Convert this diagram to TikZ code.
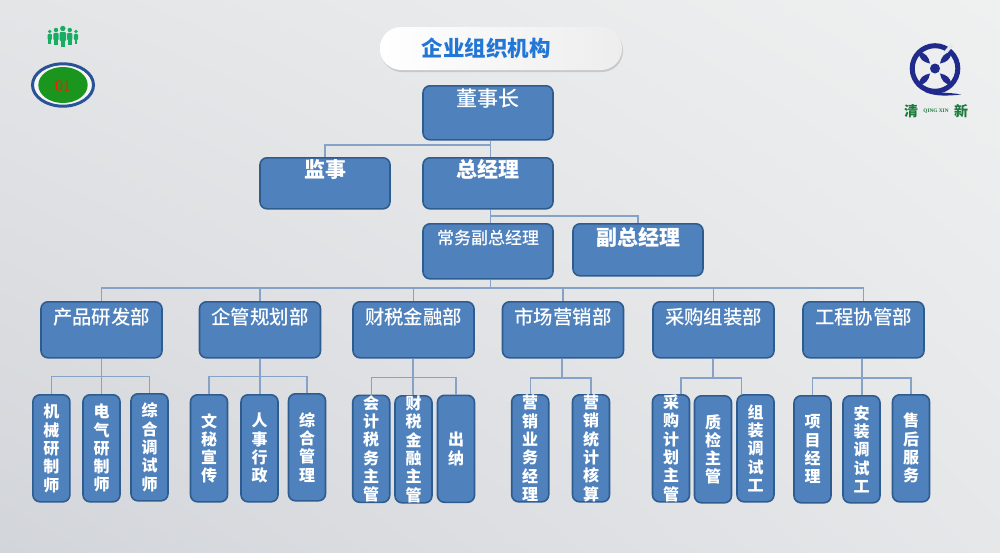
\documentclass[tikz,border=0pt]{standalone}
\usepackage{fontspec}
\usepackage{xcolor}
\usepackage{tikz}
\usetikzlibrary{shadows,shadings}
\newfontfamily\cjk{Noto Sans CJK SC}
\newfontfamily\cjkmedium{Noto Sans CJK SC Medium}
\setmainfont{Liberation Serif}
\definecolor{boxblue}{HTML}{4F81BD}
\definecolor{boxedge}{HTML}{2F5C8F}
\definecolor{linkblue}{HTML}{86A2C6}
\definecolor{logoblue}{HTML}{1F2A8A}
\definecolor{logogreen}{HTML}{1B7A3C}
\definecolor{titleblue}{HTML}{2277D6}
\definecolor{peoplegreen}{HTML}{17AD62}
\definecolor{badgegreen}{HTML}{1A961E}
\definecolor{badgeedge}{HTML}{2A5298}
\definecolor{paperA}{HTML}{E4E5E7}
\definecolor{paperB}{HTML}{EFF0F0}
\definecolor{paperC}{HTML}{D2D5DA}
\definecolor{paperD}{HTML}{E6E7E9}
\newcommand{\personfig}[3]{%
    \fill[person] (#1,#2) circle (2.7*#3);
    \fill[person,rounded corners=1pt] (#1-3.2*#3,#2+3.6*#3) rectangle (#1+3.2*#3,#2+12.5*#3);
    \fill[person] (#1-2.2*#3,#2+10*#3) rectangle (#1+2.2*#3,#2+18.5*#3);
}
\tikzset{
    box/.style={draw=boxedge,fill=boxblue,line width=1.6pt,rounded corners=7pt,text=white,
        anchor=north,inner sep=0pt,font=\cjk\bfseries},
    bigbox/.style={box,minimum width=130pt,font=\cjk\bfseries\fontsize{21}{21}\selectfont},
    deptbox/.style={box,minimum width=121pt,text height=22.4pt,text depth=33.6pt,
        font=\cjkmedium\fontsize{19.4}{19.4}\selectfont},
    staffbox/.style={box,minimum width=37pt,minimum height=107pt,align=center,
        font=\cjk\bfseries\fontsize{16}{18.3}\selectfont},
    link/.style={draw=linkblue,line width=1.2pt},
    person/.style={fill=peoplegreen,draw=none},
    blade/.style={fill=logoblue,rotate around={#1:(935,68.5)}}
}
\begin{document}
\begin{tikzpicture}[x=1pt,y=-1pt]
    \useasboundingbox (0,0) rectangle (1000,552);
    % background
    \shade[upper left=paperA,upper right=paperB,lower left=paperC,lower right=paperD] (0,0) rectangle (1000,552);

    % people icon
    \personfig{49.8}{31.5}{.68}
    \personfig{76}{31.5}{.68}
    \personfig{56}{30}{.82}
    \personfig{69.8}{30}{.82}
    \personfig{62.8}{28.5}{1}

    % number badge
    \draw[draw=badgeedge,line width=3pt,fill=white!92!gray] (63,85) ellipse (30.5 and 21.2);
    \fill[badgegreen] (63,85) ellipse (24.7 and 18);
    \node[text=red!80!orange,font=\fontsize{16}{16}\selectfont] (badge) at (63,86) {01};

    % logo
    \draw[logoblue,line width=5pt] (935,68.5) circle (22.8);
    \fill[paperD,rotate around={50:(935,68.5)}] (953,64.5) rectangle (964,68);
    \fill[logoblue] (927,90) .. controls (938,93.5) and (948,92) .. (961,94.5) .. controls (948,96) and (935,96.5) .. (925,92) -- cycle;
    \fill[blade=45] (942,68.5) .. controls (948,64.5) and (953,64) .. (958,68.5) .. controls (953,73) and (948,72.5) .. (942,68.5);
    \fill[blade=135] (942,68.5) .. controls (948,64.5) and (953,64) .. (958,68.5) .. controls (953,73) and (948,72.5) .. (942,68.5);
    \fill[blade=225] (942,68.5) .. controls (948,64.5) and (953,64) .. (958,68.5) .. controls (953,73) and (948,72.5) .. (942,68.5);
    \fill[blade=315] (942,68.5) .. controls (948,64.5) and (953,64) .. (958,68.5) .. controls (953,73) and (948,72.5) .. (942,68.5);
    \fill[logoblue] (935,68.5) circle (5);
    \node[text=logogreen,font=\cjk\bfseries\fontsize{14}{14}\selectfont] (qing) at (911,111) {清};
    \node[text=logogreen,font=\cjk\bfseries\fontsize{14}{14}\selectfont] (xin) at (961,111) {新};
    \node[text=logogreen,font=\bfseries\fontsize{5.3}{5.3}\selectfont] (pinyin) at (936,111) {QING XIN};

    % title
    \node[left color=white,right color=black!7,rounded corners=21pt,minimum width=242pt,minimum height=43pt,inner sep=0pt,
        drop shadow={opacity=.3,shadow xshift=1pt,shadow yshift=-2pt},
        text=titleblue,font=\cjk\bfseries\fontsize{21.5}{21.5}\selectfont] (title) at (501,48.5) {\hspace{-30pt}企业组织机构};

    % top of the chart
    \node[bigbox,text height=21pt,text depth=33pt,font=\cjkmedium\fontsize{21}{21}\selectfont] (chairman) at (488,85) {董事长};
    \node[bigbox,text height=20pt,text depth=31pt] (supervisor) at (325,157) {监事};
    \node[bigbox,text height=20pt,text depth=31pt] (manager) at (488,157) {总经理};
    \node[bigbox,text height=20.5pt,text depth=34.5pt,font=\cjkmedium\fontsize{17}{17}\selectfont] (deputy) at (488,223) {常务副总经理};
    \node[bigbox,text height=21.7pt,text depth=30.3pt] (vicemanager) at (638,223) {副总经理};

    % departments
    \node[deptbox] (dept1) at (101.5,301) {产品研发部};
    \node[deptbox] (dept2) at (260,301) {企管规划部};
    \node[deptbox] (dept3) at (413.5,301) {财税金融部};
    \node[deptbox] (dept4) at (563,301) {市场营销部};
    \node[deptbox] (dept5) at (713.5,301) {采购组装部};
    \node[deptbox] (dept6) at (863.5,301) {工程协管部};

    % staff
    \node[staffbox] (staff11) at (51.4,394) {机\\械\\研\\制\\师};
    \node[staffbox] (staff12) at (101.5,394) {电\\气\\研\\制\\师};
    \node[staffbox] (staff13) at (149.5,393) {综\\合\\调\\试\\师};
    \node[staffbox] (staff21) at (209,394) {文\\秘\\宣\\传};
    \node[staffbox] (staff22) at (259.5,394) {人\\事\\行\\政};
    \node[staffbox] (staff23) at (307,393) {综\\合\\管\\理};
    \node[staffbox] (staff31) at (371.2,394.5) {会\\计\\税\\务\\主\\管};
    \node[staffbox] (staff32) at (413.5,395) {财\\税\\金\\融\\主\\管};
    \node[staffbox] (staff33) at (456,394.5) {出\\纳};
    \node[staffbox] (staff41) at (530.2,394) {营\\销\\业\\务\\经\\理};
    \node[staffbox] (staff42) at (591,394) {营\\销\\统\\计\\核\\算};
    \node[staffbox] (staff51) at (671,394) {采\\购\\计\\划\\主\\管};
    \node[staffbox] (staff52) at (713,395) {质\\检\\主\\管};
    \node[staffbox] (staff53) at (755.5,394) {组\\装\\调\\试\\工};
    \node[staffbox] (staff61) at (812.5,395) {项\\目\\经\\理};
    \node[staffbox] (staff62) at (861.5,395) {安\\装\\调\\试\\工};
    \node[staffbox] (staff63) at (911,394) {售\\后\\服\\务};

    % junction points
    \coordinate (busA) at (490.5,145);
    \coordinate (busB) at (490.5,216);
    \coordinate (busC) at (490.5,288);
    \coordinate (bus1) at (101.7,376.7);
    \coordinate (bus2) at (260,376.7);
    \coordinate (bus3) at (413,377.5);
    \coordinate (bus4) at (562,378);
    \coordinate (bus5) at (713,378);
    \coordinate (bus6) at (862,378);

    % connectors
    \draw[link] (chairman.south -| busA) -- (manager.north -| busA);
    \draw[link] (busA) -| (supervisor.north);
    \draw[link] (manager.south -| busB) -- (deputy.north -| busB);
    \draw[link] (busB) -| (vicemanager.north);
    \draw[link] (deputy.south -| busC) -- (busC);
    \draw[link] (busC) -| (dept1.north);
    \draw[link] (busC) -| (dept2.north);
    \draw[link] (busC) -| (dept3.north);
    \draw[link] (busC) -| (dept4.north);
    \draw[link] (busC) -| (dept5.north);
    \draw[link] (busC) -| (dept6.north);
    \draw[link] (dept1.south -| bus1) -- (staff12.north -| bus1);
    \draw[link] (bus1) -| (staff11.north);
    \draw[link] (bus1) -| (staff13.north);
    \draw[link] (dept2.south -| bus2) -- (staff22.north -| bus2);
    \draw[link] (bus2) -| (staff21.north);
    \draw[link] (bus2) -| (staff23.north);
    \draw[link] (dept3.south -| bus3) -- (staff32.north -| bus3);
    \draw[link] (bus3) -| (staff31.north);
    \draw[link] (bus3) -| (staff33.north);
    \draw[link] (dept4.south -| bus4) -- (bus4);
    \draw[link] (bus4) -| (staff41.north);
    \draw[link] (bus4) -| (staff42.north);
    \draw[link] (dept5.south -| bus5) -- (bus5);
    \draw[link] (bus5) -| ([xshift=10pt]staff51.north);
    \draw[link] (bus5) -| ([xshift=-14pt]staff53.north);
    \draw[link] (dept6.south -| bus6) -- (staff62.north -| bus6);
    \draw[link] (bus6) -| (staff61.north);
    \draw[link] (bus6) -| (staff63.north);
\end{tikzpicture}
\end{document}
